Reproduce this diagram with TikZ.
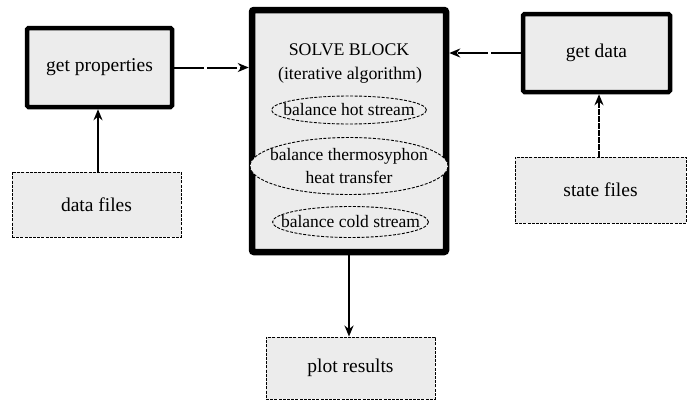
\documentclass[tikz,border=0pt]{standalone}
\usepackage{fontspec}
\setmainfont{Liberation Serif}
\usetikzlibrary{shapes.geometric,arrows.meta}
\definecolor{boxfill}{HTML}{ECECEC}
\begin{document}
\begin{tikzpicture}[x=1pt,y=-1pt,
  every node/.style={font=\fontsize{19.5}{22}\selectfont, align=center, inner sep=0pt},
  inner/.style={font=\fontsize{17.5}{23}\selectfont},
  thickbox/.style={draw, fill=boxfill, line width=4.5pt, rounded corners=1.5pt},
  solvebox/.style={draw, fill=boxfill, line width=6.5pt, rounded corners=2pt},
  filebox/.style={draw, fill=boxfill, line width=0.9pt, dash pattern=on 3pt off 1.2pt},
  ellbox/.style={ellipse, draw, fill=boxfill, line width=0.9pt, dash pattern=on 3pt off 1.5pt},
  arr/.style={line width=2pt, -{Stealth[length=11pt,width=9pt]}}
]
\useasboundingbox (0,0) rectangle (687,405);
\node[thickbox, minimum width=145pt, minimum height=79pt] (gp) at (99.5,67.5) {get properties};
\node[filebox, minimum width=169pt, minimum height=65pt] (df) at (96.5,204.5) {data files};
\node[solvebox, minimum width=194pt, minimum height=242pt] (solve) at (349,131) {};
\node[font=\fontsize{17.8}{22}\selectfont] (t1) at (349,50) {SOLVE BLOCK};
\node[font=\fontsize{17.8}{22}\selectfont] (t2) at (350,75) {(iterative algorithm)};
\node[ellbox, minimum width=155pt, minimum height=28pt] (e1) at (349,110) {};
\node[inner] (e1t) at (e1.center) {balance hot stream};
\node[ellbox, minimum width=198pt, minimum height=57pt] (e2) at (349,166) {};
\node[inner] (e2t) at (e2.center) {balance thermosyphon\\heat transfer};
\node[ellbox, minimum width=156pt, minimum height=31pt] (e3) at (350.5,222) {};
\node[inner] (e3t) at (e3.center) {balance cold stream};
\node[thickbox, minimum width=147pt, minimum height=78pt] (gd) at (596.5,53) {get data};
\node[filebox, minimum width=171pt, minimum height=66pt] (sf) at (600.5,190) {state files};
\node[filebox, minimum width=169pt, minimum height=62pt] (pr) at (350.5,368) {plot results};
\draw[arr, dash pattern=on 30pt off 3pt] (gp.east) -- (solve.west |- gp.east);
\draw[arr, dash pattern=on 30pt off 3pt] (gd.west) -- (solve.east |- gd.west);
\draw[arr] (df.north -| 98,0) -- (gp.south -| 98,0);
\draw[arr, dash pattern=on 6pt off 1pt] (sf.north -| 599,0) -- (gd.south -| 599,0);
\draw[arr] (solve.south) -- (pr.north -| solve.south);
\end{tikzpicture}
\end{document}
